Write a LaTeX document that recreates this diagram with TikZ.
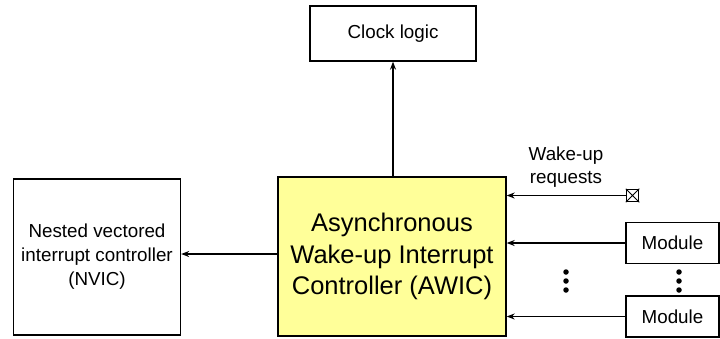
\documentclass[tikz,border=0pt]{standalone}
\usepackage{fontspec}
\setmainfont{Liberation Sans}
\usetikzlibrary{arrows.meta}
\definecolor{awicyellow}{HTML}{FFFF99}
\tikzset{
  blk/.style={draw=black, line width=1.3pt, rectangle, align=center, inner sep=0pt},
  small/.style={font=\fontsize{18.8}{24}\selectfont},
  big/.style={font=\fontsize{25.5}{31.5}\selectfont},
  arr/.style={-{Stealth[length=8pt,width=6pt,inset=2.5pt]}, line width=1.3pt},
  dot/.style={circle, fill=black, inner sep=0pt, minimum size=5.5pt}
}
\begin{document}
\begin{tikzpicture}[x=1pt,y=-1pt]
\useasboundingbox (0,0) rectangle (720,338);
\node[blk, small, minimum width=166pt, minimum height=55pt] (clk) at (393,33.5) {Clock logic};
\node[blk, big, fill=awicyellow, minimum width=228pt, minimum height=159pt] (awic) at (392,256.5) {Asynchronous\\Wake-up Interrupt\\Controller (AWIC)};
\node[blk, small, minimum width=167pt, minimum height=156pt] (nvic) at (97,257) {Nested vectored\\interrupt controller\\(NVIC)};
\node[blk, small, minimum width=93pt, minimum height=41pt] (m1) at (672.5,243) {Module};
\node[blk, small, minimum width=93pt, minimum height=41pt] (m2) at (672.5,316.5) {Module};
\node[draw=black, line width=1pt, minimum size=12.5pt, inner sep=0pt] (wx) at (632.5,195.5) {};
\draw[line width=0.9pt] (wx.north west) -- (wx.south east) (wx.north east) -- (wx.south west);
\node[small, align=center, font=\fontsize{18.8}{23}\selectfont] (wlbl) at (566,167) {Wake-up\\requests};
\coordinate (aw) at ([yshift=2.5pt]awic.west);
\draw[arr] (awic.north -| clk.south) -- (clk.south);
\draw[arr] (aw) -- (nvic.east |- aw);
\draw[arr] (wx.west) -- (awic.east |- wx.west);
\draw[arr] (m1.west) -- (awic.east |- m1.west);
\draw[arr] (m2.west) -- (awic.east |- m2.west);
\foreach \yy [count=\i] in {272,281,290} {
  \node[dot] (dl\i) at (566,\yy) {};
  \node[dot] (dr\i) at (679,\yy) {};
}
\end{tikzpicture}
\end{document}
